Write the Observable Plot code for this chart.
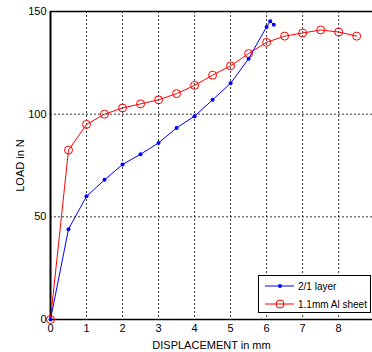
<!DOCTYPE html>
<html><head><meta charset="utf-8">
<script src="https://cdn.jsdelivr.net/npm/d3@7"></script>
<script src="https://cdn.jsdelivr.net/npm/@observablehq/plot@0.6"></script>
<style>
body{margin:0;background:#fff;font-family:"Liberation Sans",Arial,sans-serif;}
#wrap{position:relative;width:372px;height:352px;}
#legend{position:absolute;left:258px;top:275px;width:113px;height:38px;border:1px solid #000;background:#fff;box-sizing:border-box;font-size:10px;}
#legend .row{position:absolute;left:5px;height:14px;display:flex;align-items:center;white-space:nowrap;}
#legend svg{margin-right:3px;flex:none;}
</style></head><body>
<div id="wrap"><div id="chart"></div>
<div id="legend"></div></div>
<script>
const xTicks = [0,1,2,3,4,5,6,7,8];
const yTicks = [0,50,100,150];
const layerX = [0,0.5,1,1.5,2,2.5,3,3.5,4,4.5,5,5.5,6.0,6.1,6.2];
const layerY = [0,44,60,68,75.5,80.5,86,93.3,99,107,115,127,142.5,145.2,143.5];
const alX = [0,0.5,1,1.5,2,2.5,3,3.5,4,4.5,5,5.5,6,6.5,7,7.5,8,8.5];
const alY = [0,82.5,95,100,103,105,107,110,114,119,123.5,129.5,135,138,139.5,141,140,138];
const seriesNames = ["2/1 layer","1.1mm Al sheet"];
const seriesColors = ["#0000ff","#ff0000"];

const layer = layerX.map((x,i)=>({x,y:layerY[i]}));
const al = alX.map((x,i)=>({x,y:alY[i]}));

const chart = Plot.plot({
  width:372, height:352,
  marginLeft:50, marginRight:0, marginTop:11, marginBottom:33,
  style:{fontFamily:"Liberation Sans, Arial, sans-serif", fontSize:"11px", color:"#000"},
  x:{domain:[0,8.94]},
  y:{domain:[0,150]},
  marks:[
    Plot.ruleX(xTicks.slice(1), {stroke:"#333", strokeDasharray:"2,2", strokeWidth:1}),
    Plot.ruleY(yTicks.slice(1,3), {stroke:"#333", strokeDasharray:"2,2", strokeWidth:1}),
    Plot.ruleY([150], {stroke:"#000", strokeWidth:1.5}),
    Plot.ruleY([0], {stroke:"#000", strokeWidth:1.5}),
    Plot.ruleX([0], {stroke:"#000", strokeWidth:2}),
    Plot.line(al, {x:"x", y:"y", stroke:seriesColors[1], strokeWidth:1}),
    Plot.dot(al, {x:"x", y:"y", stroke:seriesColors[1], r:4, strokeWidth:1, fill:"none"}),
    Plot.line(layer, {x:"x", y:"y", stroke:seriesColors[0], strokeWidth:1}),
    Plot.dot(layer, {x:"x", y:"y", fill:seriesColors[0], r:2}),
    Plot.axisX({ticks:xTicks, tickSize:0, tickPadding:5, label:"DISPLACEMENT in mm", labelAnchor:"center", labelArrow:"none", labelOffset:29}),
    Plot.axisY({ticks:yTicks, tickSize:0, tickPadding:4, label:"LOAD in N", labelAnchor:"center", labelArrow:"none", labelOffset:34})
  ]
});
document.getElementById("chart").appendChild(chart);

const leg = document.getElementById("legend");
seriesNames.forEach((name,i)=>{
  const row = document.createElement("div");
  row.className="row";
  row.style.top = (i===0?3:21)+"px";
  const c = seriesColors[i];
  const marker = i===0 ? `<circle cx="16" cy="7" r="2" fill="${c}"/>` : `<circle cx="16" cy="7" r="4" fill="none" stroke="${c}"/>`;
  row.innerHTML = `<svg width="31" height="14"><line x1="1" x2="30" y1="7" y2="7" stroke="${c}"/>${marker}</svg><span>${name}</span>`;
  leg.appendChild(row);
});
</script>
</body></html>
